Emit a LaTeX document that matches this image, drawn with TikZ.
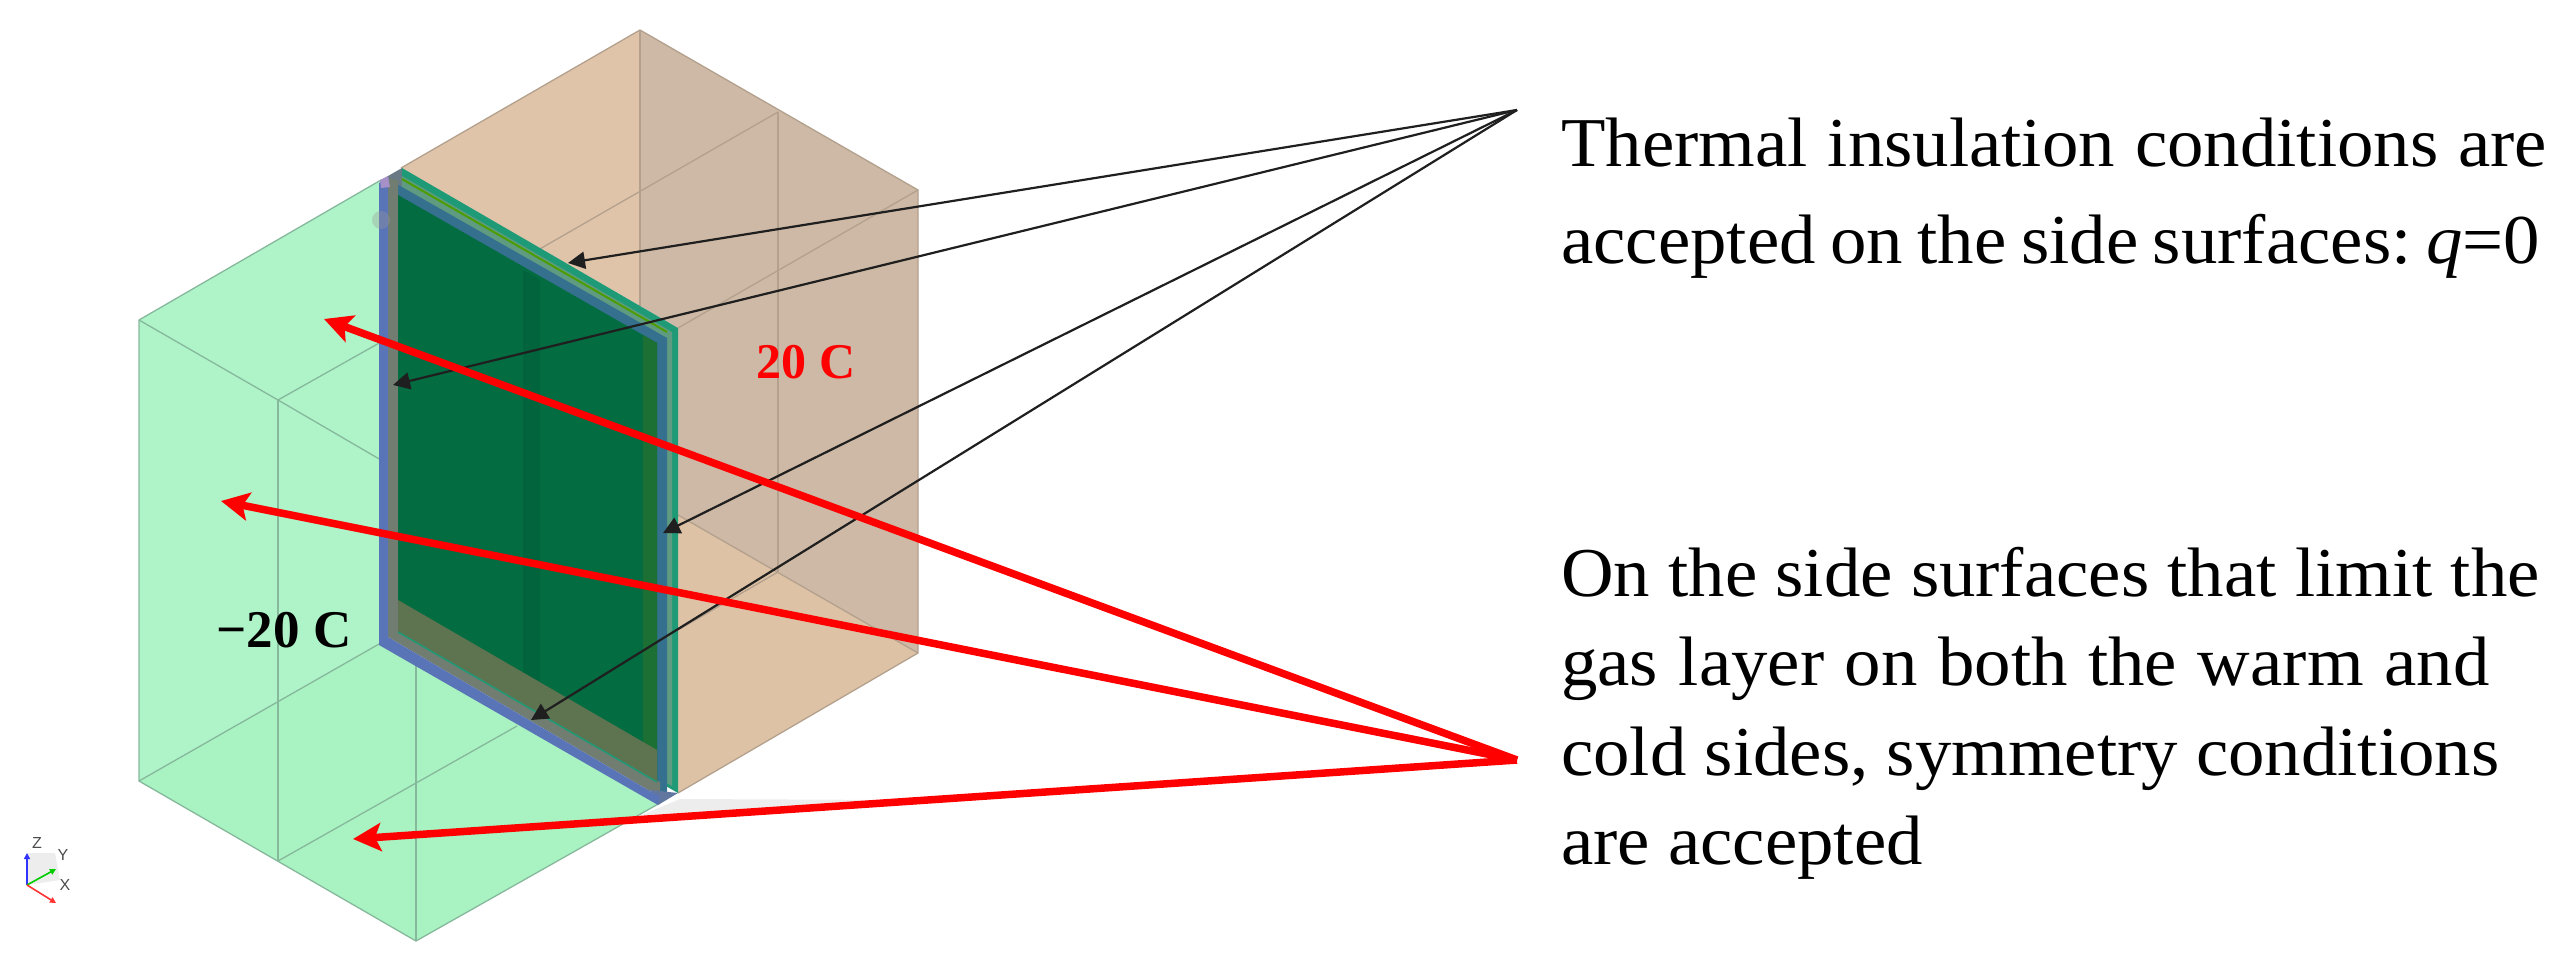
\documentclass[tikz,border=0pt]{standalone}
\usepackage{fontspec}
\setmainfont[FakeStretch=1.04]{Liberation Serif}
\newfontfamily\plainserif{Liberation Serif}
\newfontfamily\axisfont{Liberation Sans}
\usetikzlibrary{arrows.meta}
\definecolor{gwall}{HTML}{AFF3C8}
\definecolor{gfloor}{HTML}{A9F2C1}
\definecolor{gedge}{HTML}{86B89C}
\definecolor{btop}{HTML}{E0C4A9}
\definecolor{bwall}{HTML}{CDB9A5}
\definecolor{bfloor}{HTML}{DEC2A5}
\definecolor{bedge}{HTML}{B3A08D}
\definecolor{pteal}{HTML}{1F9A76}
\definecolor{pgreyg}{HTML}{5F9B80}
\definecolor{pblue}{HTML}{35718F}
\definecolor{pfront}{HTML}{5A74B8}
\definecolor{pgrey}{HTML}{707D70}
\definecolor{pdark}{HTML}{036C41}
\tikzset{
  greenline/.style={draw=gedge,line width=1.3pt},
  brownline/.style={draw=bedge,line width=1.3pt},
  callout/.style={draw=black!88,line width=2.2pt,-{Triangle[length=17pt,width=17pt]}},
  symarrow/.style={draw=red,line width=7.5pt,-{Stealth[length=28pt,width=28pt,inset=6pt]}},
  bodytext/.style={font=\frenchspacing\fontsize{70}{89.5}\selectfont,align=left,anchor=north west,inner sep=0pt,text=black},
  templabel/.style={font=\plainserif\fontsize{50}{50}\selectfont\bfseries,inner sep=0pt},
  axislabel/.style={font=\axisfont\fontsize{16}{16}\selectfont,text=black!70,inner sep=0pt}
}
\begin{document}
\begin{tikzpicture}[x=1pt,y=-1pt]
\useasboundingbox (0,0) rectangle (2570,977);
% faint shadow
\fill[black!7] (642,815) -- (680,799) -- (900,800) -- (860,808) -- cycle;
% warm (brown) box
\fill[btop] (401,168) -- (640,30) -- (640,306) -- cycle;
\fill[bwall] (640,30) -- (918,190) -- (918,653) -- (678,515) -- (678,328) -- (640,306) -- cycle;
\fill[bfloor] (678,515) -- (918,653) -- (678,793) -- cycle;
\draw[brownline] (401,168) -- (640,30) -- (918,190) -- (918,653) -- (678,793);
\draw[brownline] (640,30) -- (640,306);
\draw[brownline] (778,112) -- (778,572);
\draw[brownline] (778,112) -- (538,250);
\draw[brownline] (918,190) -- (678,328);
\draw[brownline] (678,515) -- (918,653);
\draw[brownline] (778,572) -- (678,630);
% cold (green) box
\fill[gwall] (139,320) -- (381,180) -- (379,644) -- (139,781) -- cycle;
\fill[gfloor] (139,781) -- (379,644) -- (660,803) -- (416,941) -- cycle;
\draw[greenline] (381,180) -- (139,320) -- (139,781) -- (416,941) -- (660,803);
\draw[greenline] (139,320) -- (278,400) -- (381,460);
\draw[greenline] (278,400) -- (381,342);
\draw[greenline] (278,400) -- (278,861);
\draw[greenline] (139,781) -- (379,644);
\draw[greenline] (278,861) -- (517,726);
\draw[greenline] (416,666) -- (416,941);
% glazing panel, back to front
\fill[pgrey!70!pfront] (381,180) -- (402,168) -- (402,190) -- (388,195) -- cycle;
\fill[pteal] (402,168) -- (678,328) -- (678,793) -- (400,634) -- cycle;
\fill[pgreyg] (402,176) -- (672,332) -- (672,786) -- (400,634) -- cycle;
\draw[draw=green!45!black!70!yellow,line width=2pt] (402,179) -- (667,332);
\fill[pblue] (395,183) -- (667,338) -- (667,795) -- (395,640) -- cycle;
\fill[pgrey] (388,178) -- (398,180) -- (398,632) -- (660,782) -- (660,797) -- (388,637) -- cycle;
\fill[pdark] (398,195) -- (657,343) -- (657,782) -- (398,632) -- cycle;
\fill[pdark!80!olive] (643,335) -- (657,343) -- (657,782) -- (643,774) -- cycle;
\fill[black,opacity=.07] (523,270) -- (540,280) -- (540,712) -- (523,702) -- cycle;
\fill[olive!30!pdark] (398,600) -- (657,750) -- (657,782) -- (398,632) -- cycle;
\draw[pteal,line width=1.5pt] (398,632) -- (657,782);
\fill[pfront!65!pgrey] (650,790) -- (678,793) -- (658,805) -- cycle;
\fill[pfront] (379,183) -- (388,178) -- (388,637) -- (660,797) -- (658,805) -- (379,645) -- cycle;
\fill[pfront!60!violet!60!white] (380,180) -- (388,176) -- (390,187) -- (381,188) -- cycle;
\fill[black!40,opacity=.35] (381,220) circle (9pt);
% axis triad
\fill[black!7] (27,853) -- (55,853) -- (60,880) -- (27,885) -- cycle;
\coordinate (triad) at (27,885);
\coordinate (zend) at (27,853);
\coordinate (yend) at (56,869);
\coordinate (xend) at (56,903);
\draw[blue!80!white,line width=1.6pt,-{Triangle[length=6pt,width=6pt]}] (triad) -- (zend);
\draw[green!80!black,line width=1.6pt,-{Triangle[length=6pt,width=6pt]}] (triad) -- (yend);
\draw[red!80!white,line width=1.6pt,-{Triangle[length=6pt,width=6pt]}] (triad) -- (xend);
\node[axislabel] (zlab) at (37,843) {Z};
\node[axislabel] (ylab) at (63,855) {Y};
\node[axislabel] (xlab) at (65,885) {X};
% temperature labels
\node[templabel,text=red] (warm) at (806,362) {20 C};
\node[templabel,text=black,font=\plainserif\fontsize{53}{53}\selectfont\bfseries] (cold) at (284,630) {−20 C};
% callouts
\coordinate (ins) at (1517,110);
\coordinate (sym) at (1517,760);
\coordinate (b1) at (568,263);
\coordinate (b2) at (393,385);
\coordinate (b3) at (663,533);
\coordinate (b4) at (531,720);
\coordinate (r1) at (324,319);
\coordinate (r2) at (221,501);
\coordinate (r3) at (353,839);
\draw[callout] (ins) -- (b1);
\draw[callout] (ins) -- (b2);
\draw[callout] (ins) -- (b3);
\draw[callout] (ins) -- (b4);
\draw[symarrow] (sym) -- (r1);
\draw[symarrow] (sym) -- (r2);
\draw[symarrow] (sym) -- (r3);
% texts
\node[bodytext,font=\frenchspacing\fontsize{70}{97}\selectfont] (t1) at (1561,118) {{\spaceskip=20pt Thermal insulation conditions are}\\{\spaceskip=14.5pt accepted on the side surfaces: \textit{q}=0}};
\node[bodytext] (t2) at (1561,547) {On the side surfaces that limit the\\{\spaceskip=20.6pt gas layer on both the warm and}\\cold sides, symmetry conditions\\are accepted};
\end{tikzpicture}
\end{document}
